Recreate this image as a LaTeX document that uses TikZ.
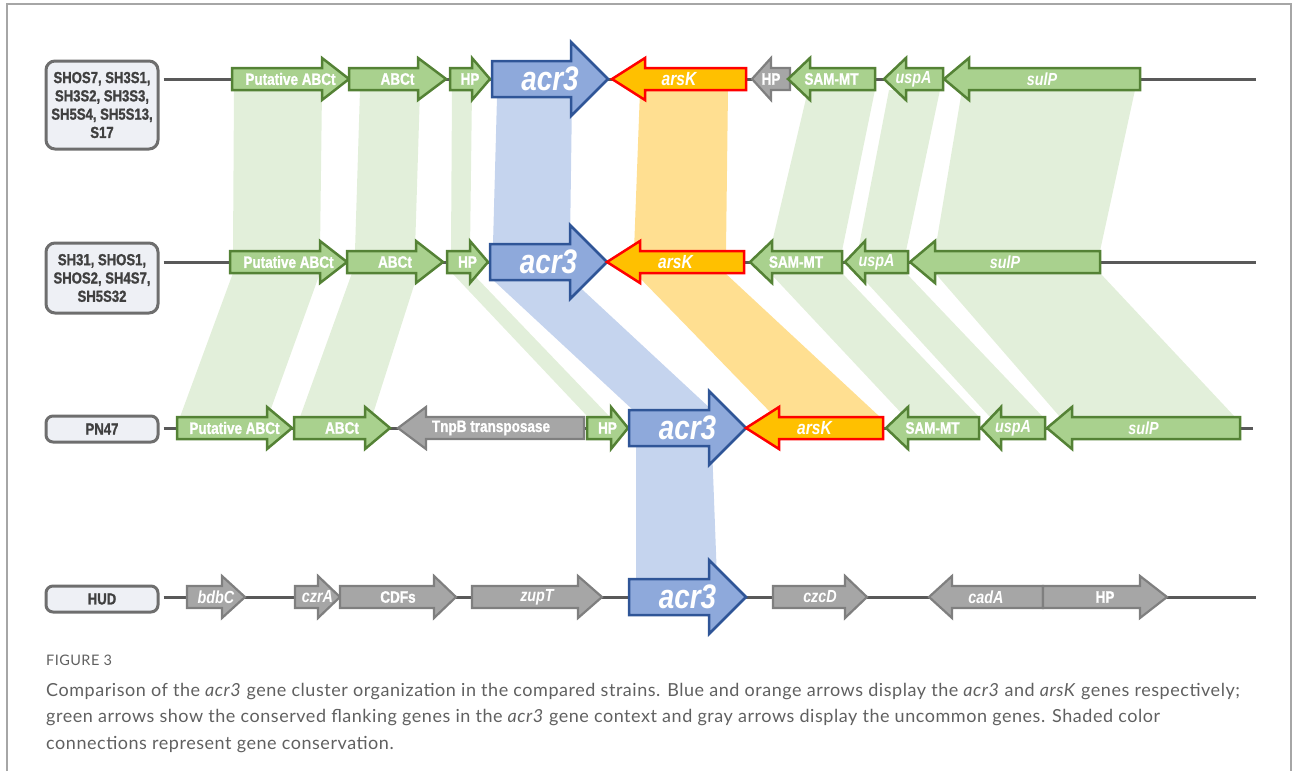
\documentclass[tikz,border=0pt]{standalone}
\usepackage{fontspec}
\setmainfont[LetterSpace=3]{Lato}
\newfontfamily\genefont[FakeStretch=0.82, BoldFeatures={FakeBold=1.2}]{Liberation Sans}
\usepackage{xcolor}
\usepackage{tikz}
\usetikzlibrary{calc}
\definecolor{frame}{HTML}{A6A6A6}
\definecolor{chrom}{HTML}{595959}
\definecolor{boxdraw}{HTML}{6E6E6E}
\definecolor{boxfill}{HTML}{EEF0F5}
\definecolor{boxtext}{HTML}{404040}
\definecolor{grnfill}{HTML}{A9D18E}
\definecolor{grndraw}{HTML}{548235}
\definecolor{bluefill}{HTML}{8EA9DB}
\definecolor{bluedraw}{HTML}{2F5597}
\definecolor{orgfill}{HTML}{FFC000}
\definecolor{orgdraw}{HTML}{FF0000}
\definecolor{gryfill}{HTML}{A6A6A6}
\definecolor{grydraw}{HTML}{7F7F7F}
\definecolor{grnband}{HTML}{E2EFDA}
\definecolor{blueband}{HTML}{C5D4EE}
\definecolor{orgband}{HTML}{FFDF91}
\definecolor{captext}{HTML}{606060}
\tikzset{
  framel/.style={draw=frame, line width=1.5pt},
  chromline/.style={draw=chrom, line width=3pt, shorten <=4pt},
  strainbox/.style={draw=boxdraw, fill=boxfill, line width=3pt, rounded corners=9pt,
    minimum width=112pt, inner sep=0pt, align=center, text=boxtext,
    font=\genefont\bfseries\fontsize{16}{18.3}\selectfont},
  ggene/.style={draw=grndraw, fill=grnfill, line width=2.5pt},
  bgene/.style={draw=bluedraw, fill=bluefill, line width=2.5pt},
  ogene/.style={draw=orgdraw, fill=orgfill, line width=2.5pt},
  xgene/.style={draw=grydraw, fill=gryfill, line width=2.2pt},
  glbl/.style={text=white, inner sep=0pt, font=\genefont\bfseries\fontsize{16.5}{16.5}\selectfont},
  figlbl/.style={anchor=base west, inner sep=0pt, text=captext, font=\fontsize{14.5}{14.5}\selectfont},
  caplbl/.style={anchor=base west, inner sep=0pt, text=captext, font=\fontsize{18}{18}\selectfont}
}
\newcommand{\il}[1]{{\itshape\fontsize{17.5}{17.5}\selectfont #1}}
\newcommand{\ars}{{\itshape\fontsize{19}{19}\selectfont arsK}}
\newcommand{\acr}{{\itshape\fontsize{34}{34}\selectfont acr3}}
\def\bh{11}
\def\hh{21}
% #1 style, #2 tail x, #3 tip x, #4 row y, #5 head length, #6 label, #7 name
\newcommand{\gene}[7]{%
  \pgfmathsetmacro{\hb}{#3-sign(#3-#2)*#5}
  \draw[#1] (#2,#4-\bh) -- (\hb,#4-\bh) -- (\hb,#4-\hh) -- (#3,#4)
    -- (\hb,#4+\hh) -- (\hb,#4+\bh) -- (#2,#4+\bh) -- cycle;
  \node[glbl] (#7) at ({(#2+#3)/2},#4) {#6};
}
\newcommand{\biggene}[6]{{\def\bh{18}\def\hh{37}\gene{bgene}{#1}{#2}{#3}{#4}{#5}{#6}}}
% #1 colour, #2-#3 top x, #4 top y, #5-#6 bottom x, #7 bottom y
\newcommand{\band}[7]{\fill[#1] (#2,#4) -- (#3,#4) -- (#6,#7) -- (#5,#7) -- cycle;}

\begin{document}
\begin{tikzpicture}[x=1pt,y=-1pt]
  \useasboundingbox (0,0) rectangle (1293,771);
  \draw[framel] (7,771) -- (7,4) -- (1291,4) -- (1291,771);

  % conservation bands
  \band{grnband}{234}{322}{90}{233}{320}{251}
  \band{grnband}{360}{420}{90}{355}{415}{251}
  \band{grnband}{452}{472}{90}{451}{470}{251}
  \band{blueband}{497}{572}{97}{493}{570}{244}
  \band{orgband}{640}{728}{90}{634}{726}{251}
  \band{grnband}{808}{875}{90}{770}{842}{251}
  \band{grnband}{889}{940}{90}{858}{906}{251}
  \band{grnband}{962}{1135}{90}{935}{1100}{251}

  \band{grnband}{233}{320}{273}{180}{268}{417}
  \band{grnband}{352}{418}{273}{300}{372}{417}
  \band{grnband}{452}{472}{273}{588}{610}{417}
  \band{blueband}{493}{572}{280}{633}{712}{410}
  \band{orgband}{635}{725}{273}{775}{880}{417}
  \band{grnband}{770}{842}{273}{905}{979}{417}
  \band{grnband}{858}{906}{273}{990}{1043}{417}
  \band{grnband}{935}{1100}{273}{1060}{1235}{417}

  \band{blueband}{636}{712}{446}{636}{717}{579}

  % strains
  \node[strainbox, minimum height=88pt] (s1) at (102,105)
    {SHOS7, SH3S1,\\SH3S2, SH3S3,\\SH5S4, SH5S13,\\S17};
  \node[strainbox, minimum height=70pt] (s2) at (102,278)
    {SH31, SHOS1,\\SHOS2, SH4S7,\\SH5S32};
  \node[strainbox, minimum height=26pt, rounded corners=7pt] (s3) at (102,429) {PN47};
  \node[strainbox, minimum height=26pt, rounded corners=7pt] (s4) at (102,599) {HUD};

  \coordinate (e1) at (1256,79);
  \coordinate (e2) at (1256,262);
  \coordinate (e3) at (1253,428);
  \coordinate (e4) at (1256,597);
  \draw[chromline] (s1.east |- e1) -- (e1);
  \draw[chromline] (s2.east |- e2) -- (e2);
  \draw[chromline] (s3.east |- e3) -- (e3);
  \draw[chromline] (s4.east |- e4) -- (e4);

  % row 1
  \gene{ggene}{232}{349}{79}{27}{Putative ABCt}{a1}
  \gene{ggene}{349}{446}{79}{28}{ABCt}{b1}
  \gene{ggene}{450}{490}{79}{18}{HP}{c1}
  \biggene{492}{608}{79}{37}{\acr}{d1}
  \gene{ogene}{746}{612}{79}{33}{\ars}{f1}
  \gene{xgene}{790}{752}{79}{19}{HP}{h1}
  \gene{ggene}{875}{788}{79}{22}{SAM-MT}{m1}
  \gene{ggene}{943}{884}{79}{22}{\il{uspA}}{u1}
  \gene{ggene}{1140}{944}{79}{25}{\il{sulP}}{p1}

  % row 2
  \gene{ggene}{230}{347}{262}{27}{Putative ABCt}{a2}
  \gene{ggene}{347}{443}{262}{27}{ABCt}{b2}
  \gene{ggene}{447}{488}{262}{18}{HP}{c2}
  \biggene{490}{607}{262}{37}{\acr}{d2}
  \gene{ogene}{744}{607}{262}{33}{\ars}{f2}
  \gene{ggene}{842}{750}{262}{22}{SAM-MT}{m2}
  \gene{ggene}{908}{845}{262}{20}{\il{uspA}}{u2}
  \gene{ggene}{1100}{910}{262}{25}{\il{sulP}}{p2}

  % row 3
  \gene{ggene}{177}{292}{428}{25}{Putative ABCt}{a3}
  \gene{ggene}{294}{390}{428}{25}{ABCt}{b3}
  \gene{xgene}{584}{398}{428}{28}{TnpB transposase}{t3}
  \gene{ggene}{587}{628}{428}{17}{HP}{c3}
  \biggene{629}{746}{428}{37}{\acr}{d3}
  \gene{ogene}{883}{746}{428}{33}{\ars}{f3}
  \gene{ggene}{979}{886}{428}{22}{SAM-MT}{m3}
  \gene{ggene}{1045}{981}{428}{20}{\il{uspA}}{u3}
  \gene{ggene}{1240}{1047}{428}{25}{\il{sulP}}{p3}

  % row 4
  \gene{xgene}{187}{245}{597}{23}{\il{bdbC}}{g4}
  \gene{xgene}{295}{340}{597}{22}{\il{czrA}}{z4}
  \gene{xgene}{340}{456}{597}{22}{CDFs}{k4}
  \gene{xgene}{472}{602}{597}{24}{\il{zupT}}{n4}
  \biggene{629}{746}{597}{37}{\acr}{d4}
  \gene{xgene}{773}{867}{597}{22}{\il{czcD}}{q4}
  \gene{xgene}{1043}{929}{597}{23}{\il{cadA}}{r4}
  \gene{xgene}{1043}{1167}{597}{27}{HP}{h4}

  % caption
  \node[figlbl] (fig) at (46,665) {FIGURE 3};
  \node[caplbl] (cap1) at (46,696) {Comparison of the \textit{acr3} gene cluster organization in the compared strains. Blue and orange arrows display the \textit{acr3} and \textit{arsK} genes respectively;};
  \node[caplbl] (cap2) at (46,722.5) {green arrows show the conserved flanking genes in the \textit{acr3} gene context and gray arrows display the uncommon genes. Shaded color};
  \node[caplbl] (cap3) at (46,749) {connections represent gene conservation.};
\end{tikzpicture}
\end{document}
